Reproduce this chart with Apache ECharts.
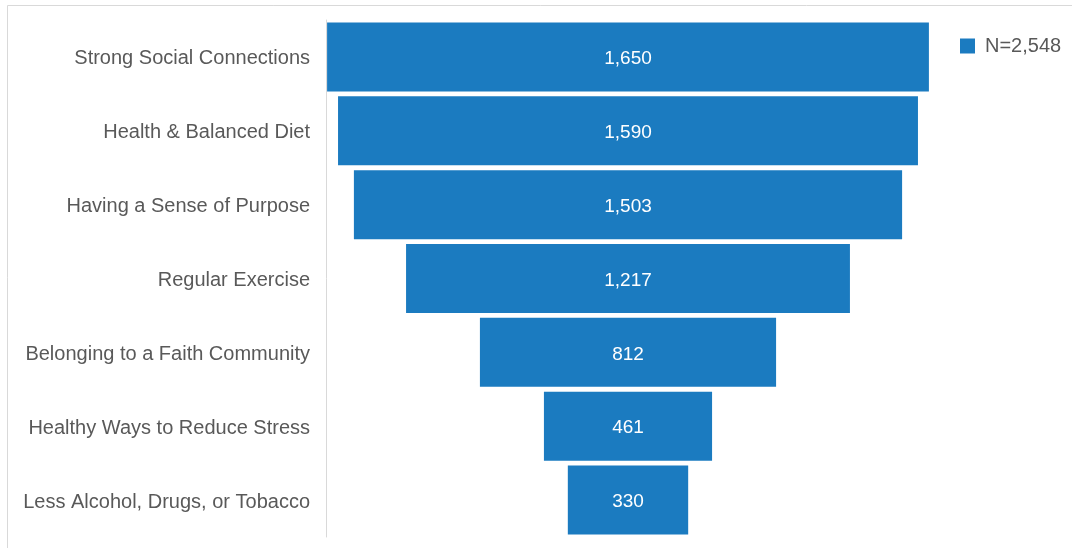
<!DOCTYPE html>
<html>
<head>
<meta charset="utf-8">
<script src="https://cdn.jsdelivr.net/npm/echarts@6/dist/echarts.min.js"></script>
<style>
  html, body { margin: 0; padding: 0; background: #ffffff; }
  #chart { width: 1072px; height: 548px; }
</style>
</head>
<body>
<div id="chart"></div>
<script>
// Factors, top to bottom
const categories = [
  'Strong Social Connections',
  'Health & Balanced Diet',
  'Having a Sense of Purpose',
  'Regular Exercise',
  'Belonging to a Faith Community',
  'Healthy Ways to Reduce Stress',
  'Less Alcohol, Drugs, or Tobacco'
];
const counts = [1650, 1590, 1503, 1217, 812, 461, 330];
const seriesName = 'N=2,548';

// Axis span; each bar is centred by a transparent spacer stacked before it
const axisMax = 1656;
const spacers = counts.map(v => (axisMax - v) / 2);

const fmt = v => v.toLocaleString('en-US');
const FONT = '"Liberation Sans", Arial, sans-serif';
const BLUE = '#1b7bc0';

const chart = echarts.init(document.getElementById('chart'), null, { renderer: 'canvas' });
chart.setOption({
  animation: false,
  backgroundColor: '#ffffff',
  textStyle: { fontFamily: FONT },
  graphic: [{
    type: 'rect',
    shape: { x: 7.5, y: 5.5, width: 1200, height: 700 },
    style: { fill: 'none', stroke: '#d9d9d9', lineWidth: 1 },
    silent: true
  }],
  grid: { left: 326, top: 20, width: 604, height: 517, containLabel: false },
  legend: {
    data: [seriesName],
    left: 955, top: 31,
    itemWidth: 15, itemHeight: 15, itemGap: 10,
    icon: 'rect',
    textStyle: { fontSize: 20, color: '#595959', fontFamily: FONT, padding: [0, 0, 0, 5] }
  },
  xAxis: {
    type: 'value', min: 0, max: axisMax,
    show: false
  },
  yAxis: {
    type: 'category', data: categories, inverse: true,
    axisLine: { show: true, lineStyle: { color: '#d9d9d9', width: 1 } },
    axisTick: { show: false },
    axisLabel: {
      margin: 16,
      formatter: v => '{c|' + v + '}',
      rich: {
        c: { fontSize: 20, color: '#595959', fontFamily: FONT, padding: [4, 0, 0, 0] }
      }
    }
  },
  series: [
    {
      name: 'spacer', type: 'bar', stack: 'f', data: spacers,
      itemStyle: { color: 'rgba(0,0,0,0)' }, silent: true,
      barCategoryGap: '6.6%'
    },
    {
      name: seriesName, type: 'bar', stack: 'f', data: counts,
      barCategoryGap: '6.6%',
      itemStyle: { color: BLUE },
      label: {
        show: true, position: 'inside', color: '#ffffff',
        fontSize: 19, fontFamily: FONT, offset: [0, 2],
        formatter: p => fmt(p.value)
      }
    }
  ]
});
</script>
</body>
</html>
